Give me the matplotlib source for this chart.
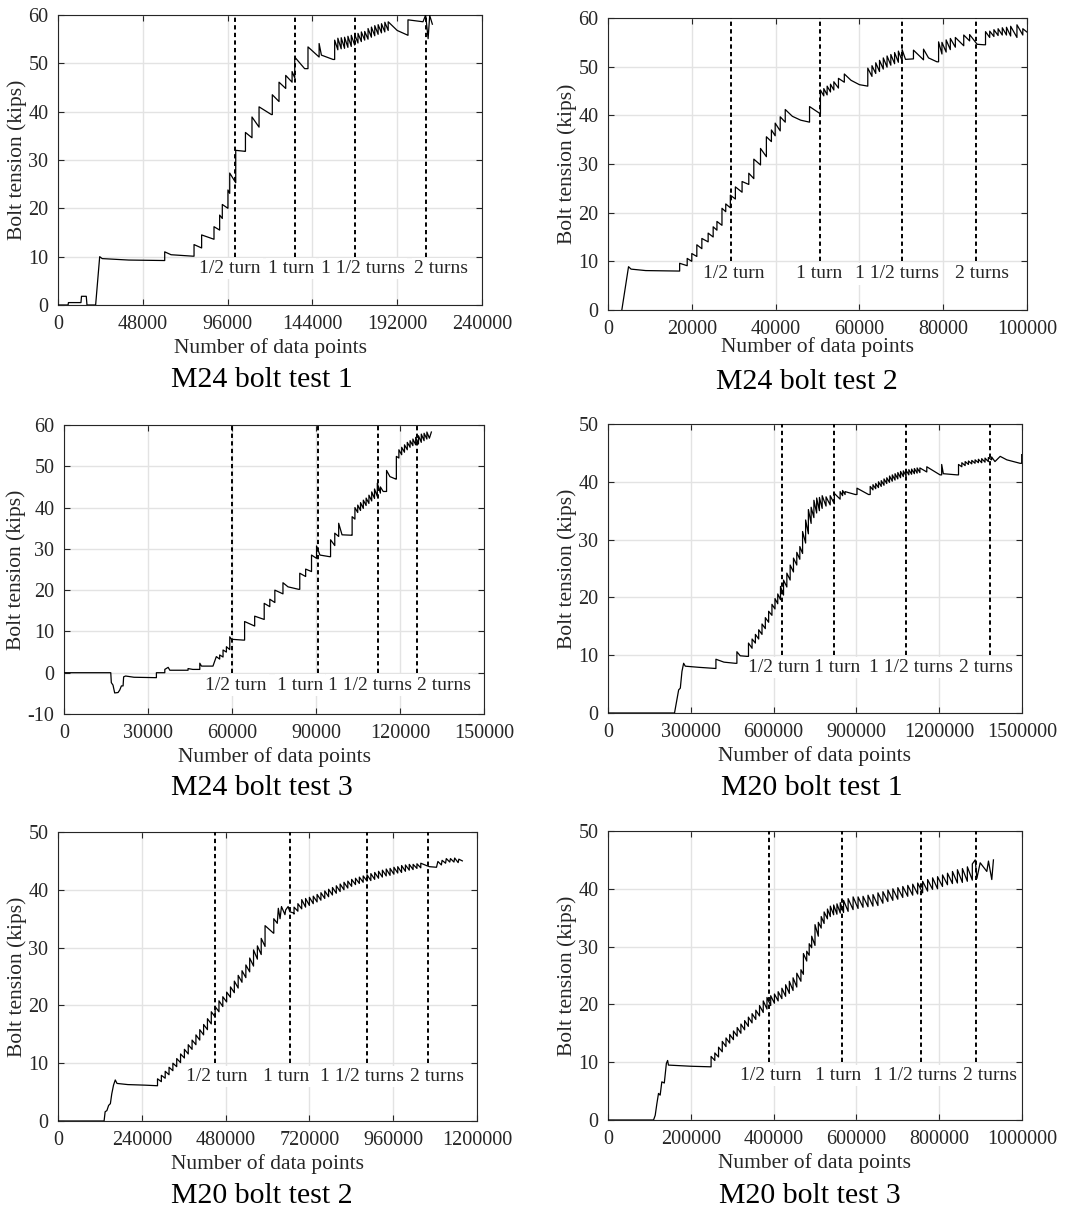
import matplotlib.pyplot as plt

plt.rcParams['font.family'] = ['Liberation Serif', 'DejaVu Serif']
plt.rcParams['text.color'] = '#262626'
plt.rcParams['axes.labelcolor'] = '#262626'
plt.rcParams['axes.unicode_minus'] = False

W, H = 1087, 1219

# ---- data (x in thousands of data points, y in kips) ----
# (x, y) = a point, (x, lo, hi) = a vertical jump at x from lo to hi
m24_1 = [(0, 0), (5.7, 0), (5.9, 0.5), (13.0, 0.5), (13.3, 1.8), (16.0, 1.8), (16.4, 0), (21.3, 0),
         (23.6, 10.0), (25.0, 9.6), (40.0, 9.3), (60.4, 9.2, 11.0), (64.0, 10.4), (76.4, 10.1),
         (77.0, 10.1, 12.5), (81.3, 11.8, 14.5), (88.3, 13.6, 16.2), (91.5, 15.5, 18.6), (93.0, 17.9, 20.8),
         (96.2, 20.0, 23.8), (97.2, 23.1, 27.3), (100.6, 25.3, 32.0), (105.7, 31.8), (106.1, 31.8, 35.7),
         (109.8, 34.6, 38.9), (113.8, 36.8, 41.0), (120.8, 39.4), (121.3, 39.4, 43.5), (125.1, 42.1, 46.1),
         (128.9, 44.8, 47.5), (132.5, 46.1, 48.3), (134.0, 47.0, 51.3), (139.6, 48.9), (141.5, 48.9, 53.4),
         (147.8, 51.3, 54.1), (149.1, 51.7), (155.7, 50.8),
         (156.6, 50.8, 54.8), (158.4, 52.8, 55.2), (160.3, 53.0, 55.3), (162.2, 53.1, 55.4), (164.1, 53.3, 55.6),
         (166.0, 53.5, 55.8), (167.9, 53.8, 56.0), (169.8, 54.2, 56.2), (171.7, 54.5, 56.5), (173.6, 54.8, 56.6),
         (175.5, 55.0, 57.2), (177.4, 55.4, 57.5), (179.3, 55.7, 57.8), (181.2, 56.0, 58.0), (183.1, 56.3, 58.2),
         (185.0, 56.5, 58.5), (186.9, 56.8, 58.6), (192.0, 56.8), (198.1, 55.8, 59.0), (206.6, 58.6),
         (208.1, 60.0), (209.5, 55.1), (210.4, 59.9), (211.9, 58.1)]

m24_2 = [(3.3, 0), (4.9, 8.9), (5.5, 8.4), (9.0, 8.1), (17.1, 8.0, 9.6), (18.9, 9.1, 10.6), (20.0, 10.0, 11.6),
         (21.2, 11.0, 13.4), (22.4, 12.6, 14.7), (23.9, 14.0, 15.8), (25.1, 15.0, 17.1), (26.0, 16.4, 18.2),
         (27.2, 17.4, 20.9), (28.1, 20.2, 21.8), (29.2, 21.0, 23.6), (30.4, 22.8, 25.3), (32.0, 24.2, 26.4),
         (33.6, 25.8, 28.1), (34.8, 27.0, 31.0), (36.4, 29.8, 33.2), (37.8, 31.5, 35.6), (39.0, 34.6, 37.0),
         (39.9, 35.8, 38.4), (41.1, 36.8, 39.7), (42.3, 38.6, 41.2), (44.0, 39.8), (46.0, 39.0),
         (48.1, 38.6, 41.8), (50.7, 40.3, 45.2), (51.5, 44.0, 45.5), (52.3, 44.2, 46.0), (53.1, 44.8, 46.4),
         (53.9, 45.2, 46.9), (55.0, 45.6, 47.6), (56.4, 46.8, 48.5), (58.0, 47.2), (60.0, 46.3),
         (62.0, 46.0, 49.7), (63.0, 48.0, 50.2), (63.9, 48.6, 50.8), (64.8, 49.0, 51.3), (65.7, 49.5, 51.8),
         (66.6, 49.9, 52.2), (67.5, 50.3, 52.5), (68.4, 50.6, 52.9), (69.3, 50.9, 53.2), (70.2, 51.2, 53.5),
         (71.0, 51.5), (72.9, 51.6, 53.4), (75.3, 51.4, 53.6), (76.5, 51.8), (78.5, 51.0), (78.9, 51.0, 55.1),
         (79.7, 52.6, 55.0), (80.7, 53.0, 55.5), (81.7, 53.5, 55.8), (82.9, 54.0, 56.0), (84.9, 54.3, 56.5),
         (86.3, 55.3, 56.6), (88.1, 54.6), (89.7, 54.5), (90.1, 54.5, 57.2), (91.1, 56.0, 57.3),
         (92.1, 56.2, 57.6), (93.1, 56.4, 57.8), (94.1, 56.5, 58.0), (95.1, 56.5, 58.1), (96.1, 56.3, 58.3),
         (97.6, 56.0, 58.6), (99.0, 56.5, 57.8), (100.0, 57.1)]

m24_3 = [(0, 0), (16.7, 0), (16.9, -2.4), (17.5, -3.0), (18.1, -4.9), (19.3, -4.8), (19.9, -4.2), (20.5, -3.2),
         (21.1, -3.2), (21.3, -1.0), (22.0, -0.8), (25.0, -1.1), (33.0, -1.2, 0.0), (36.0, 0.0, 0.8), (37.2, 1.3),
         (37.8, 0.6), (44.3, 0.6, 1.0), (46.0, 0.8), (48.5, 0.8, 2.3), (49.1, 1.6), (53.2, 1.6), (54.4, 3.9),
         (55.6, 3.3, 4.3), (56.8, 3.8, 5.5), (58.0, 5.0, 6.3), (59.2, 5.6, 8.7), (59.8, 8.1), (64.0, 7.9),
         (64.5, 7.9, 12.4), (68.1, 11.3, 13.7), (71.5, 12.9, 16.8), (73.5, 16.0, 17.8), (75.3, 17.0, 20.0),
         (78.2, 19.1, 21.8), (80.0, 20.8), (83.8, 20.2), (84.2, 20.2, 24.1), (86.3, 23.3, 25.1),
         (88.4, 24.5, 28.5), (90.2, 27.7, 30.7), (91.4, 28.5), (94.9, 28.1), (95.2, 28.1, 32.2),
         (96.7, 30.8, 33.8), (98.1, 33.0, 36.2), (99.3, 33.4), (102.7, 33.3), (102.9, 33.3, 37.8),
         (103.9, 37.2, 40.0), (104.9, 38.8, 40.6), (105.9, 39.3, 41.2), (106.9, 39.8, 41.8), (107.9, 40.5, 42.3),
         (108.9, 41.0, 43.0), (109.9, 41.6, 43.8), (110.9, 42.2, 44.5), (111.9, 42.7, 45.9), (113.0, 43.5, 45.0),
         (114.0, 43.9), (115.2, 43.9, 49.0), (116.4, 47.5), (118.5, 46.9), (118.7, 46.9, 52.4),
         (119.6, 52.0, 54.0), (120.6, 52.8, 54.6), (121.6, 53.4, 55.2), (122.6, 54.0, 55.8), (123.6, 54.6, 56.2),
         (124.6, 55.0, 56.6), (125.6, 55.2, 57.0), (126.6, 55.4, 57.4), (127.6, 55.8, 57.8), (128.6, 56.2, 58.0),
         (129.6, 56.6, 58.3), (130.5, 56.8), (131.2, 58.3)]

m20_1 = [(0, 0), (241, 0), (244, 0.8), (250, 2.3), (256, 4.0), (262, 4.3), (268, 7.2), (274, 8.6), (280, 8.1),
         (330, 7.9), (389, 7.7), (391, 7.7, 9.3), (420, 8.8), (461, 8.6), (467, 8.6, 10.6), (479, 9.9), (503, 9.8),
         (509, 9.8, 12.1), (522, 11.2, 12.8), (534, 12.1, 13.6), (546, 12.8, 14.4), (558, 13.6, 15.4),
         (570, 14.6, 16.5), (582, 15.7, 17.6), (594, 16.9, 18.8), (605, 18.0, 19.8), (615, 18.9, 20.6),
         (625, 19.6, 21.9), (636, 20.4, 23.0), (648, 21.8, 24.2), (660, 23.0, 25.6), (672, 24.4, 26.8),
         (684, 25.6, 27.8), (695, 26.6, 28.8), (705, 27.6, 31.4), (716, 29.4, 33.4), (726, 31.0, 35.2),
         (736, 32.8, 35.6), (746, 33.8, 36.8), (756, 34.6, 37.2), (766, 35.0, 37.3), (776, 35.4, 37.6),
         (790, 35.8, 37.4), (805, 36.0, 37.6), (820, 36.2, 38.0), (841, 37.0, 38.3), (850, 37.6, 38.5),
         (859, 37.8, 38.3), (896, 37.8), (902, 37.8, 38.9), (944, 37.8),
         (950, 37.8, 39.2), (960, 38.6, 39.5), (970, 38.8, 39.7), (980, 39.0, 40.0), (990, 39.2, 40.2),
         (1000, 39.4, 40.5), (1010, 39.7, 40.7), (1020, 39.9, 41.0), (1030, 40.1, 41.2), (1040, 40.3, 41.4),
         (1050, 40.5, 41.6), (1060, 40.7, 41.8), (1070, 40.9, 41.9), (1080, 41.0, 42.0), (1090, 41.2, 42.1),
         (1100, 41.3, 42.2), (1110, 41.4, 42.3), (1120, 41.5, 42.4), (1130, 41.6, 42.4), (1155, 41.7, 42.6),
         (1203, 41.2), (1209, 41.2, 43.0), (1215, 41.4), (1264, 41.2), (1270, 41.2, 43.0),
         (1282, 42.6, 43.3), (1294, 42.8, 43.5), (1306, 43.0, 43.6), (1318, 43.1, 43.7), (1330, 43.2, 43.8),
         (1342, 43.3, 43.9), (1354, 43.3, 44.0), (1366, 43.4, 44.1), (1378, 43.5, 44.2), (1390, 43.8, 44.3),
         (1402, 43.5), (1421, 44.4), (1445, 43.8), (1493, 43.2), (1499, 43.2, 44.7)]

m20_2 = [(0, 0), (132, 0), (135, 1.6), (140, 1.8), (145, 2.7), (150, 3.0), (154, 4.7), (159, 6.2), (164, 7.1),
         (169, 6.5), (200, 6.3), (250, 6.2),
         (285, 6.1, 7.3), (296, 6.8, 7.9), (307, 7.4, 8.6), (318, 8.0, 9.3), (329, 8.7, 10.0), (340, 9.4, 10.8),
         (351, 10.1, 11.6), (362, 10.9, 12.4), (373, 11.6, 13.2), (384, 12.4, 14.0), (395, 13.2, 14.9),
         (406, 14.0, 15.8), (417, 14.9, 16.7), (428, 15.8, 17.7), (439, 16.8, 18.9), (450, 18.0, 19.8),
         (461, 18.9, 20.8), (472, 19.8, 21.5), (483, 20.6, 22.3), (494, 21.4, 23.2), (505, 22.2, 24.2),
         (516, 23.0, 25.2), (527, 24.0, 26.0), (538, 24.8, 27.0), (549, 25.8, 28.2), (560, 26.8, 29.6),
         (571, 28.0, 30.3), (582, 28.8, 31.6), (593, 30.2, 33.8), (617, 32.5), (618, 32.5, 35.0),
         (628, 34.2), (631, 36.8), (636, 35.0), (640, 37.1), (650, 35.7), (652, 36.5), (659, 37.1), (664, 36.2),
         (674, 36.0),
         (676, 35.8, 37.0), (687, 36.3, 37.6), (698, 36.7, 38.3), (709, 37.0, 38.5), (720, 37.3, 38.7),
         (731, 37.6, 38.9), (742, 37.9, 39.2), (753, 38.2, 39.5), (764, 38.5, 39.8), (775, 38.8, 40.1),
         (786, 39.1, 40.4), (797, 39.4, 40.7), (808, 39.7, 41.0), (819, 40.0, 41.3), (830, 40.3, 41.5),
         (841, 40.6, 41.8), (852, 40.9, 42.0), (863, 41.1, 42.2), (874, 41.3, 42.4), (885, 41.5, 42.6),
         (896, 41.6, 42.8), (907, 41.8, 43.0), (918, 42.0, 43.2), (929, 42.2, 43.4), (940, 42.4, 43.6),
         (951, 42.5, 43.7), (962, 42.7, 43.9), (973, 42.9, 44.0), (984, 43.0, 44.2), (995, 43.2, 44.3),
         (1006, 43.4, 44.4), (1017, 43.5, 44.4), (1028, 43.7, 44.5), (1039, 43.8, 44.6),
         (1055, 44.2), (1064, 44.0), (1084, 43.9), (1088, 44.9), (1098, 44.3), (1100, 45.1), (1110, 44.6),
         (1112, 45.4), (1122, 44.8), (1124, 45.4), (1134, 44.8), (1136, 45.5), (1146, 44.7), (1148, 45.3),
         (1158, 45.0)]

m20_3 = [(0, 0), (110, 0), (114, 0.8), (118, 2.8), (122, 4.6), (126, 4.3), (130, 6.6), (136, 6.4), (141, 9.8),
         (144, 10.3), (146, 9.5), (200, 9.3),
         (249, 9.2, 11.0), (258, 10.3, 11.6), (267, 10.9, 12.6), (276, 11.8, 13.6), (285, 12.7, 14.2),
         (294, 13.3, 14.8), (303, 13.9, 15.4), (312, 14.5, 16.0), (321, 15.0, 16.6), (330, 15.6, 17.2),
         (339, 16.2, 17.8), (348, 16.8, 18.4), (357, 17.4, 19.0), (366, 18.0, 19.8), (375, 18.6, 20.6),
         (384, 19.2, 21.2), (393, 19.8, 21.5), (402, 20.2, 21.8), (411, 20.6, 22.2), (420, 21.0, 22.8),
         (429, 21.4, 23.4), (438, 21.9, 24.0), (447, 22.4, 24.6), (456, 23.0, 25.4), (466, 24.0, 26.0),
         (472, 25.2, 28.8), (480, 27.5, 29.2), (486, 28.5, 30.5), (492, 29.8, 31.8), (500, 30.2, 33.8),
         (508, 31.8, 34.2), (515, 33.2, 35.2), (522, 34.0, 36.0), (530, 34.8, 36.5), (537, 35.2, 37.0),
         (545, 35.5, 37.2), (553, 35.6, 37.4), (561, 35.8, 37.6), (569, 35.9, 38.0),
         (580, 36.1, 38.3), (592, 36.4, 38.6), (604, 36.6, 38.6), (616, 36.8, 38.7), (628, 36.9, 38.9),
         (640, 37.0, 39.0), (652, 37.1, 39.3), (664, 37.5, 39.5), (676, 37.8, 39.8), (688, 38.0, 40.0),
         (700, 38.2, 40.2), (712, 38.5, 40.4), (724, 38.7, 40.6), (736, 38.9, 40.8), (748, 39.1, 41.0),
         (760, 39.3, 41.3), (772, 39.6, 41.6), (784, 39.9, 41.9), (796, 40.0, 42.1), (808, 40.4, 42.4),
         (820, 40.7, 42.7), (832, 40.9, 43.0), (844, 41.0, 43.3), (856, 41.1, 43.5), (868, 41.3, 43.8),
         (880, 41.5, 44.3), (887, 45.0), (891, 41.8), (899, 44.5), (915, 43.0), (919, 44.8), (927, 41.6),
         (931, 45.0)]

titles = ['M24 bolt test 1', 'M24 bolt test 2', 'M24 bolt test 3',
          'M20 bolt test 1', 'M20 bolt test 2', 'M20 bolt test 3']
curves = [m24_1, m24_2, m24_3, m20_1, m20_2, m20_3]
turn_labels = ['1/2 turn', '1 turn', '1 1/2 turns', '2 turns']
# x of the dashed turn markers (thousands)
turn_x = [[100.4, 134.0, 168.1, 208.3], [29.4, 50.7, 70.2, 87.9], [60.1, 90.8, 112.2, 126.1],
          [632, 819, 1079, 1384], [450, 664, 884, 1060], [389, 565, 755, 889]]
# left edge of turn labels (thousands)
label_x = [[79.8, 118.9, 148.7, 201.5], [22.6, 44.9, 59.0, 82.7], [50.5, 76.1, 94.3, 126.2],
           [506, 747, 944, 1273], [366, 588, 750, 1007], [318, 500, 641, 857]]
label_y = [7.6, 7.4, -3.0, 7.9, 7.7, 7.7]
dash_bottom = [10, 10, 0, 10, 10, 10]
xmax = [240000, 100000, 150000, 1500000, 1200000, 1000000]
xstep = [48000, 20000, 30000, 300000, 240000, 200000]
ylims = [(0, 60), (0, 60), (-10, 60), (0, 50), (0, 50), (0, 50)]

# layout in pixels: left, top, right, bottom ; title centre ; label pads
boxes = [(58, 15, 482, 305), (608, 18, 1027, 310), (64, 425, 484, 714),
         (608, 424, 1022, 713), (58, 832, 477, 1121), (608, 831, 1022, 1120)]
title_pos = [(262, 380), (807, 382), (262, 788), (812, 788), (262, 1196), (810, 1196)]
xpads = [3, -1, 3, 3, 3, 3]


def expand(pts):
    xs, ys = [], []
    for p in pts:
        if len(p) == 3:
            xs += [p[0] * 1000, p[0] * 1000]
            ys += [p[1], p[2]]
        else:
            xs.append(p[0] * 1000)
            ys.append(p[1])
    return xs, ys


fig = plt.figure(figsize=(W / 100, H / 100), dpi=100)

for i in range(6):
    l, t, r, b = boxes[i]
    ax = fig.add_axes([l / W, 1 - b / H, (r - l) / W, (b - t) / H])
    xs, ys = expand(curves[i])
    ax.plot(xs, ys, color='black', lw=0.9, zorder=3)

    y0, y1 = ylims[i]
    for tx in turn_x[i]:
        ax.plot([tx * 1000, tx * 1000], [dash_bottom[i], y1], color='black', lw=1.4,
                linestyle=(0, (2.2, 1.7)), zorder=4)
    for lx, lab in zip(label_x[i], turn_labels):
        ax.text(lx * 1000, label_y[i], lab, fontsize=14, ha='left', va='center', zorder=5,
                bbox=dict(facecolor='white', edgecolor='none', pad=1.5))

    ax.set_xlim(0, xmax[i])
    ax.set_ylim(y0, y1)
    ax.set_xticks(list(range(0, xmax[i] + 1, xstep[i])))
    ax.set_yticks(list(range(y0, y1 + 1, 10)))
    ax.ticklabel_format(style='plain', useOffset=False)
    ax.grid(True, color='#e3e3e3', lw=1)
    ax.set_axisbelow(True)
    ax.tick_params(direction='in', top=True, right=True, length=4, width=0.8,
                   labelsize=14.5, colors='#262626', pad=7)
    for s in ax.spines.values():
        s.set_color('#262626')
        s.set_linewidth(0.8)
    ax.set_xlabel('Number of data points', fontsize=15.5, labelpad=xpads[i])
    ax.set_ylabel('Bolt tension (kips)', fontsize=15.5, labelpad=1)

    tx_, ty_ = title_pos[i]
    fig.text(tx_ / W, 1 - ty_ / H, titles[i], fontsize=21.5, ha='center', va='center', color='black')

fig.savefig('out.png', dpi=100)
